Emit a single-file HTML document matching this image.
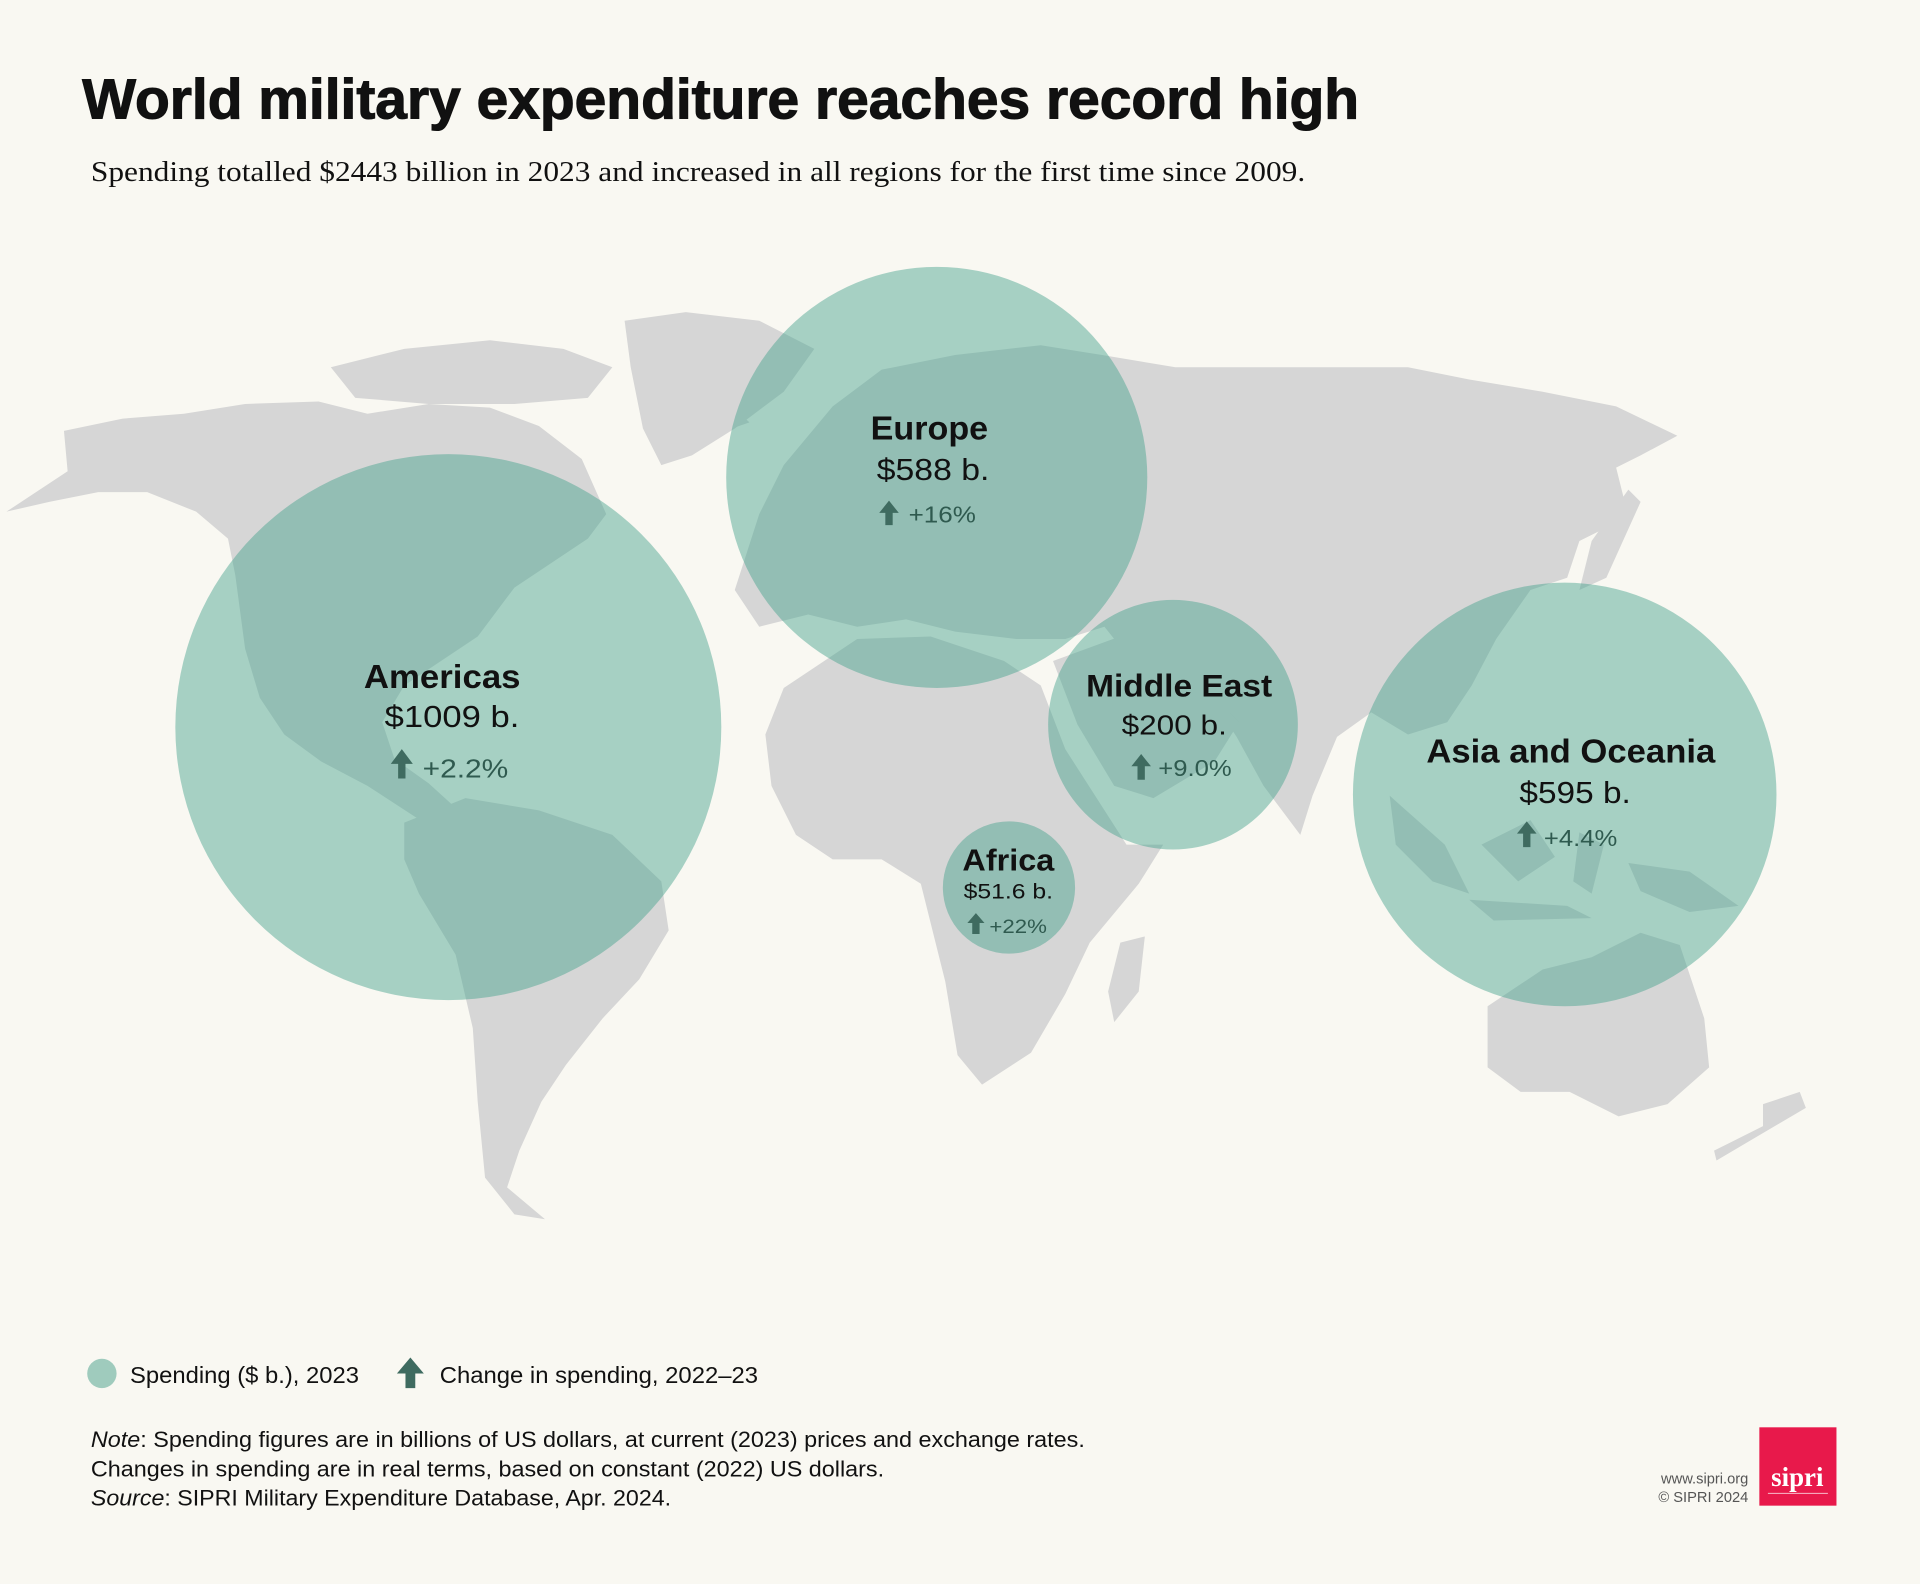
<!DOCTYPE html>
<html><head><meta charset="utf-8"><style>html,body{margin:0;padding:0;background:#f9f8f2}svg{display:block}</style></head>
<body>
<svg width="1920" height="1584" viewBox="0 0 1568 1294" xmlns="http://www.w3.org/2000/svg">
<rect width="1568" height="1294" fill="#f9f8f2"/>
<g fill="#d6d6d6">
<polygon points="510,262 560,255 620,262 665,285 640,320 600,350 565,372 540,380 525,350 515,300"/>
<polygon points="270,300 330,285 400,278 460,285 500,300 480,325 420,330 350,330 290,325"/>
<polygon points="52,352 100,342 150,338 200,330 260,328 300,338 350,330 400,333 440,348 475,375 495,420 480,440 450,460 420,480 390,520 360,540 330,560 312,590 322,620 350,640 372,660 340,668 300,642 262,622 232,600 212,570 200,530 192,470 186,440 160,418 120,402 80,402 40,410 5,418 55,385"/>
<polygon points="330,672 380,652 440,662 500,682 540,720 546,760 522,800 492,832 462,870 442,900 424,940 414,970 445,996 420,992 396,962 390,900 386,840 372,780 342,730 330,702"/>
<polygon points="578,340 600,334 612,345 592,352"/>
<polygon points="600,482 620,420 640,380 680,332 720,302 780,290 850,282 900,290 960,300 1020,300 1080,300 1150,300 1200,310 1260,320 1320,332 1370,356 1340,372 1320,382 1330,422 1290,442 1280,472 1250,482 1222,522 1202,560 1182,590 1150,600 1120,582 1092,602 1072,650 1062,682 1032,642 1010,602 990,572 942,562 902,512 870,522 830,522 780,516 740,506 700,512 660,502 620,512"/>
<polygon points="680,398 700,388 704,430 682,432"/>
<polygon points="860,540 920,518 980,558 1012,590 992,622 942,652 910,642 880,592"/>
<polygon points="640,562 700,522 760,520 820,540 850,560 870,612 920,690 950,690 930,722 890,770 870,812 842,860 802,886 782,862 772,802 762,762 752,722 720,702 680,702 650,682 630,642 625,600"/>
<polygon points="915,770 935,765 930,810 910,835 905,810"/>
<polygon points="1300,442 1330,400 1340,410 1312,472 1290,482"/>
<polygon points="1135,650 1180,690 1200,730 1170,720 1140,690"/>
<polygon points="1200,735 1280,740 1300,750 1220,752"/>
<polygon points="1210,690 1250,670 1270,700 1240,720"/>
<polygon points="1290,680 1310,690 1300,730 1285,720"/>
<polygon points="1330,705 1380,712 1420,740 1380,745 1340,728"/>
<polygon points="1215,822 1260,792 1300,782 1340,762 1372,772 1392,832 1396,872 1362,902 1322,912 1282,892 1242,892 1215,872"/>
<polygon points="1440,902 1470,892 1475,905 1402,948 1400,940 1440,920"/>
</g>
<g fill="rgb(68,161,140)" fill-opacity="0.46">
<circle cx="366" cy="594" r="223"/>
<circle cx="765" cy="390" r="172"/>
<circle cx="958" cy="592" r="102"/>
<circle cx="824" cy="725" r="54"/>
<circle cx="1278" cy="649" r="173"/>
</g>
<g font-family="Liberation Sans, sans-serif" fill="#111">
<text x="67" y="97" font-size="46" font-weight="bold" stroke="#111" stroke-width="0.9" textLength="1043" lengthAdjust="spacingAndGlyphs">World military expenditure reaches record high</text>
<text x="74" y="148" font-size="23" font-family="Liberation Serif, serif" textLength="992" lengthAdjust="spacingAndGlyphs">Spending totalled $2443 billion in 2023 and increased in all regions for the first time since 2009.</text>

<text x="297" y="562" font-size="27" font-weight="bold" textLength="128" lengthAdjust="spacingAndGlyphs">Americas</text>
<text x="314" y="594" font-size="25" textLength="110" lengthAdjust="spacingAndGlyphs">$1009 b.</text>
<text x="345" y="635" font-size="21" fill="#2f5a4f" textLength="70" lengthAdjust="spacingAndGlyphs">+2.2%</text>

<text x="711" y="359" font-size="27" font-weight="bold" textLength="96" lengthAdjust="spacingAndGlyphs">Europe</text>
<text x="716" y="392" font-size="25" textLength="92" lengthAdjust="spacingAndGlyphs">$588 b.</text>
<text x="742" y="427" font-size="19" fill="#2f5a4f" textLength="55" lengthAdjust="spacingAndGlyphs">+16%</text>

<text x="887" y="569" font-size="26" font-weight="bold" textLength="152" lengthAdjust="spacingAndGlyphs">Middle East</text>
<text x="916" y="600" font-size="23" textLength="86" lengthAdjust="spacingAndGlyphs">$200 b.</text>
<text x="946" y="634" font-size="19" fill="#2f5a4f" textLength="60" lengthAdjust="spacingAndGlyphs">+9.0%</text>

<text x="786" y="711" font-size="25" font-weight="bold" textLength="75" lengthAdjust="spacingAndGlyphs">Africa</text>
<text x="787" y="734" font-size="17" textLength="73" lengthAdjust="spacingAndGlyphs">$51.6 b.</text>
<text x="808" y="762" font-size="16" fill="#2f5a4f" textLength="47" lengthAdjust="spacingAndGlyphs">+22%</text>

<text x="1165" y="623" font-size="27" font-weight="bold" textLength="236" lengthAdjust="spacingAndGlyphs">Asia and Oceania</text>
<text x="1241" y="656" font-size="25" textLength="91" lengthAdjust="spacingAndGlyphs">$595 b.</text>
<text x="1261" y="691" font-size="19" fill="#2f5a4f" textLength="60" lengthAdjust="spacingAndGlyphs">+4.4%</text>

<circle cx="83" cy="1122" r="12" fill="#9fcbbd"/>
<text x="106" y="1130" font-size="19" textLength="187" lengthAdjust="spacingAndGlyphs">Spending ($ b.), 2023</text>
<text x="359" y="1130" font-size="19" textLength="260" lengthAdjust="spacingAndGlyphs">Change in spending, 2022–23</text>

<text x="74" y="1182" font-size="18" textLength="812" lengthAdjust="spacingAndGlyphs"><tspan font-style="italic">Note</tspan>: Spending figures are in billions of US dollars, at current (2023) prices and exchange rates.</text>
<text x="74" y="1206" font-size="18" textLength="648" lengthAdjust="spacingAndGlyphs">Changes in spending are in real terms, based on constant (2022) US dollars.</text>
<text x="74" y="1230" font-size="18" textLength="474" lengthAdjust="spacingAndGlyphs"><tspan font-style="italic">Source</tspan>: SIPRI Military Expenditure Database, Apr. 2024.</text>

<text x="1428" y="1212" font-size="12" fill="#555" text-anchor="end">www.sipri.org</text>
<text x="1428" y="1227" font-size="12" fill="#555" text-anchor="end">© SIPRI 2024</text>
<rect x="1437" y="1166" width="63" height="64" fill="#e8194b"/>
<text x="1468" y="1214" font-size="22" font-weight="bold" font-family="Liberation Serif, serif" fill="#fff" text-anchor="middle">sipri</text>
<line x1="1444" y1="1220" x2="1493" y2="1220" stroke="#fff" stroke-width="0.8" opacity="0.7"/>
</g>
<g fill="#3f6b60">
<path d="M328,612 L337,624 L331,624 L331,636 L325,636 L325,624 L319,624 Z"/>
<path d="M726,409 L734,419 L729,419 L729,429 L723,429 L723,419 L718,419 Z"/>
<path d="M932,616 L940,626 L935,626 L935,637 L929,637 L929,626 L924,626 Z"/>
<path d="M797,746 L804,754 L800,754 L800,763 L794,763 L794,754 L790,754 Z"/>
<path d="M1247,671 L1255,681 L1250,681 L1250,692 L1244,692 L1244,681 L1239,681 Z"/>
<path d="M335,1109 L346,1122 L339,1122 L339,1134 L331,1134 L331,1122 L324,1122 Z"/>
</g>
</svg>
</body></html>
